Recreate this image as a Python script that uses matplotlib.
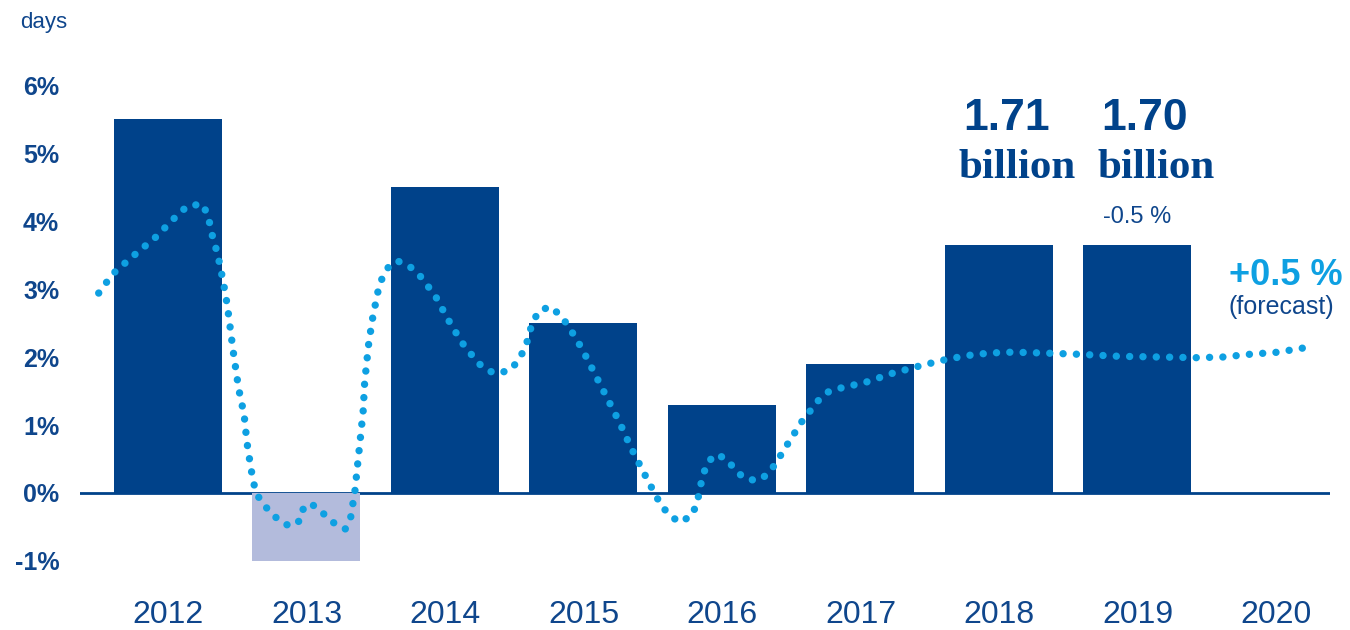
import matplotlib
matplotlib.use("Agg")
import matplotlib.pyplot as plt
from matplotlib import font_manager

# yearly bars (% change in days)
YEARS = ["2012", "2013", "2014", "2015", "2016", "2017", "2018", "2019", "2020"]
BAR_VALUES = [5.5, -1.0, 4.5, 2.5, 1.3, 1.9, 3.65, 3.65]
Y_TICKS = [-1, 0, 1, 2, 3, 4, 5, 6]

# smoothed monthly trend, x in year index units (0 = 2012)
CURVE_X = [-0.50, -0.40, -0.26, -0.09, 0.06, 0.14, 0.25, 0.29, 0.32, 0.36,
           0.40, 0.43, 0.47, 0.51, 0.55, 0.57, 0.60, 0.63, 0.67, 0.73,
           0.80, 0.88, 0.95, 0.97, 1.03, 1.11, 1.19, 1.28, 1.32, 1.35,
           1.37, 1.39, 1.41, 1.42, 1.43, 1.45, 1.48, 1.52, 1.55, 1.60,
           1.66, 1.74, 1.81, 1.93, 2.02, 2.12, 2.24, 2.32, 2.39, 2.48,
           2.53, 2.58, 2.63, 2.68, 2.76, 2.83, 2.89, 2.99, 3.08, 3.17,
           3.26, 3.34, 3.43, 3.52, 3.57, 3.64, 3.69, 3.78, 3.82, 3.86,
           3.90, 3.96, 4.04, 4.09, 4.16, 4.25, 4.32, 4.38, 4.48, 4.58,
           4.70, 4.77, 4.85, 5.04, 5.23, 5.43, 5.63, 5.83, 6.03, 6.12,
           6.30, 6.58, 6.87, 7.16, 7.43, 7.62, 7.81, 8.01, 8.19]
CURVE_Y = [2.94, 3.22, 3.47, 3.76, 4.07, 4.22, 4.25, 4.07, 3.79, 3.50,
           3.10, 2.74, 2.10, 1.54, 1.15, 0.75, 0.35, 0.04, -0.12, -0.26,
           -0.40, -0.49, -0.41, -0.25, -0.15, -0.28, -0.43, -0.53, -0.35, 0.03,
           0.43, 0.82, 1.22, 1.62, 1.82, 2.21, 2.60, 3.00, 3.18, 3.35,
           3.41, 3.34, 3.22, 2.90, 2.56, 2.22, 1.91, 1.79, 1.76, 1.82,
           1.96, 2.13, 2.50, 2.68, 2.74, 2.62, 2.46, 2.12, 1.76, 1.40,
           1.04, 0.68, 0.32, -0.03, -0.21, -0.35, -0.43, -0.34, -0.15, 0.25,
           0.46, 0.57, 0.49, 0.35, 0.22, 0.18, 0.26, 0.41, 0.74, 1.06,
           1.37, 1.49, 1.54, 1.63, 1.76, 1.87, 1.97, 2.04, 2.07, 2.07,
           2.06, 2.04, 2.01, 2.00, 1.99, 2.00, 2.04, 2.07, 2.13]

# absolute totals shown above the last two bars
TOTAL_IDX = [6, 7]
TOTAL_LABELS = ["1.71", "1.70"]
CHANGE_LABEL = "-0.5 %"
FORECAST_LABEL = "+0.5 %"

DARK = "#00428a"
TEXT = "#0f468c"
LAVENDER = "#b3bbdc"
CYAN = "#0ea0e2"
BAR_COLORS = [LAVENDER if v < 0 else DARK for v in BAR_VALUES]

installed = {f.name for f in font_manager.fontManager.ttflist}
SANS = ["Liberation Sans Narrow", "Liberation Sans"] if "Liberation Sans Narrow" in installed \
    else ["Liberation Sans", "DejaVu Sans"]
plt.rcParams["font.family"] = SANS

fig = plt.figure(figsize=(13.5, 6.3), dpi=100)
ax = fig.add_axes([80 / 1350, 45 / 630, 1250 / 1350, 545 / 630])
ax.set_xlim(-0.635, 8.39)
ax.set_ylim(-1.353, 6.662)

ax.axhline(0, color=DARK, lw=2, zorder=1)
ax.bar(range(len(BAR_VALUES)), BAR_VALUES, width=0.78, color=BAR_COLORS, zorder=2)
ax.plot(CURVE_X, CURVE_Y, color=CYAN, lw=5.3, linestyle=(0, (0.01, 1.8)),
        dash_capstyle="round", zorder=3)

for s in ax.spines.values():
    s.set_visible(False)
ax.set_yticks(Y_TICKS)
ax.set_yticklabels([f"{v}%" for v in Y_TICKS], fontweight="bold")
ax.set_xticks(range(len(YEARS)))
ax.set_xticklabels(YEARS)
ax.tick_params(axis="y", length=0, pad=15, labelsize=18, labelcolor=TEXT)
ax.tick_params(axis="x", length=0, pad=11, labelsize=23, labelcolor=TEXT)

fig.text(20 / 1350, 1 - 28 / 630, "days", fontsize=16, color=TEXT)

for i, lab in zip(TOTAL_IDX, TOTAL_LABELS):
    left = i - 0.39
    ax.annotate(lab, (left, BAR_VALUES[i]), xytext=(13, 83), textcoords="offset points",
                ha="left", va="baseline", fontsize=32, fontweight="bold", color=DARK)
    ax.annotate("billion", (left, BAR_VALUES[i]), xytext=(10, 48), textcoords="offset points",
                ha="left", va="baseline", fontsize=31, fontweight="bold", color=DARK,
                family="Liberation Serif")

ax.annotate(CHANGE_LABEL, (TOTAL_IDX[-1], BAR_VALUES[TOTAL_IDX[-1]]), xytext=(0, 16),
            textcoords="offset points", ha="center", va="baseline", fontsize=17, color=TEXT)

ax.text(7.66, 3.06, FORECAST_LABEL, ha="left", va="baseline", fontsize=26,
        fontweight="bold", color=CYAN)
ax.text(7.655, 2.63, "(forecast)", ha="left", va="baseline", fontsize=18, color=TEXT)

fig.savefig("out.png", dpi=100)
